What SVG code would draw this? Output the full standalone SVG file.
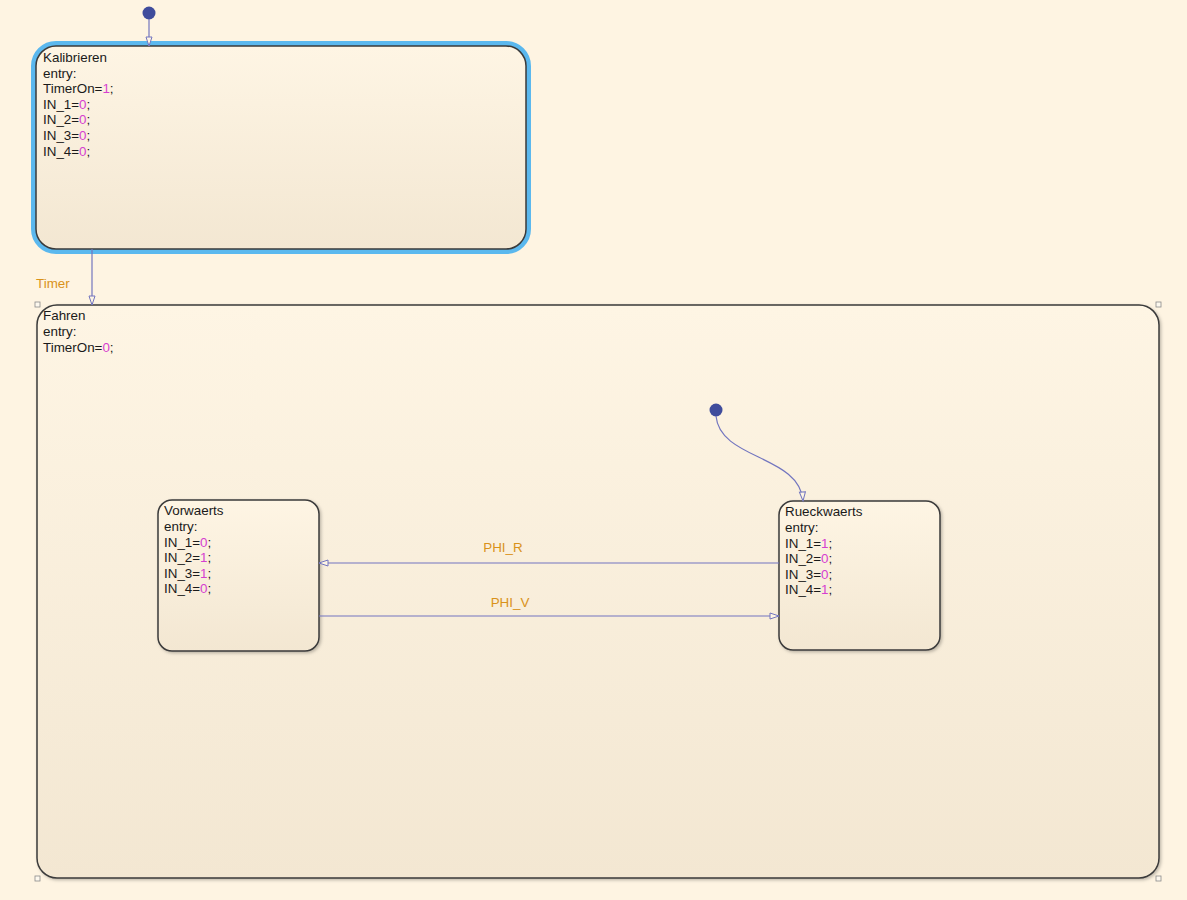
<svg xmlns="http://www.w3.org/2000/svg" width="1187" height="900" viewBox="0 0 1187 900">
<style>
text{font-family:"Liberation Sans",Arial,sans-serif;font-size:13.4px;fill:#1a1a1a}
.n{fill:#d63fd0}
.lbl{fill:#d9921a}
.st{stroke:#3a3a3a;stroke-width:1.5}
.tr{fill:none;stroke:#7275bf;stroke-width:1.2}
.dot{fill:#3f4c9c}
.h{fill:#fdf8ee;stroke:#8a8a8a;stroke-width:0.8}
</style>
<defs>
<linearGradient id="g" x1="0" y1="0" x2="0" y2="1">
<stop offset="0" stop-color="#fef5e4"/>
<stop offset="1" stop-color="#f3e7d2"/>
</linearGradient>
<filter id="sh" x="-5%" y="-5%" width="110%" height="110%">
<feDropShadow dx="1.5" dy="1.5" stdDeviation="1.5" flood-color="#000" flood-opacity="0.25"/>
</filter>
<marker id="a" markerWidth="12" markerHeight="10" refX="10" refY="4" orient="auto" markerUnits="userSpaceOnUse">
<path d="M1,1 L10,4 L1,7 Z" fill="#fef5e4" stroke="#7275bf" stroke-width="1"/>
</marker>
</defs>
<rect width="1187" height="900" fill="#fef4e2"/>

<g id="Kalibrieren">
<rect x="33.5" y="43.5" width="495" height="208" rx="22.5" fill="none" stroke="#5bb8ee" stroke-width="5"/>
<rect x="36" y="46" width="490" height="203" rx="20" fill="url(#g)" class="st"/>
<text x="43" y="62">Kalibrieren</text>
<text x="43" y="78">entry:</text>
<text x="43" y="93">TimerOn=<tspan class="n">1</tspan>;</text>
<text x="43" y="109">IN_1=<tspan class="n">0</tspan>;</text>
<text x="43" y="124">IN_2=<tspan class="n">0</tspan>;</text>
<text x="43" y="140">IN_3=<tspan class="n">0</tspan>;</text>
<text x="43" y="156">IN_4=<tspan class="n">0</tspan>;</text>
</g>

<g id="Fahren">
<rect x="37" y="305" width="1122" height="573" rx="20" fill="url(#g)" class="st" filter="url(#sh)"/>
<rect x="35" y="302" width="5" height="5" class="h"/>
<rect x="1156" y="302" width="5" height="5" class="h"/>
<rect x="35" y="876" width="5" height="5" class="h"/>
<rect x="1156" y="876" width="5" height="5" class="h"/>
<text x="43" y="320">Fahren</text>
<text x="43" y="336">entry:</text>
<text x="43" y="352">TimerOn=<tspan class="n">0</tspan>;</text>
</g>

<g id="Vorwaerts">
<rect x="158" y="500" width="161" height="151" rx="14" fill="url(#g)" class="st" filter="url(#sh)"/>
<text x="164" y="515">Vorwaerts</text>
<text x="164" y="531">entry:</text>
<text x="164" y="547">IN_1=<tspan class="n">0</tspan>;</text>
<text x="164" y="562">IN_2=<tspan class="n">1</tspan>;</text>
<text x="164" y="578">IN_3=<tspan class="n">1</tspan>;</text>
<text x="164" y="593">IN_4=<tspan class="n">0</tspan>;</text>
</g>

<g id="Rueckwaerts">
<rect x="779" y="501" width="161" height="149" rx="14" fill="url(#g)" class="st" filter="url(#sh)"/>
<text x="785" y="516">Rueckwaerts</text>
<text x="785" y="532">entry:</text>
<text x="785" y="548">IN_1=<tspan class="n">1</tspan>;</text>
<text x="785" y="563">IN_2=<tspan class="n">0</tspan>;</text>
<text x="785" y="579">IN_3=<tspan class="n">0</tspan>;</text>
<text x="785" y="594">IN_4=<tspan class="n">1</tspan>;</text>
</g>

<g id="connectors">
<circle cx="149" cy="13" r="6.5" class="dot"/>
<path d="M149,19 L149,46" class="tr" marker-end="url(#a)"/>
<path d="M92,249 L92,305" class="tr" marker-end="url(#a)"/>
<text x="36" y="288" class="lbl">Timer</text>
<circle cx="716" cy="410" r="6.5" class="dot"/>
<path d="M716,416 C720,460 800,455 803,501" class="tr" marker-end="url(#a)"/>
<path d="M779,563 L319,563" class="tr" marker-end="url(#a)"/>
<text x="503" y="552" class="lbl" text-anchor="middle">PHI_R</text>
<path d="M319,616 L779,616" class="tr" marker-end="url(#a)"/>
<text x="510" y="607" class="lbl" text-anchor="middle">PHI_V</text>
</g>
</svg>
